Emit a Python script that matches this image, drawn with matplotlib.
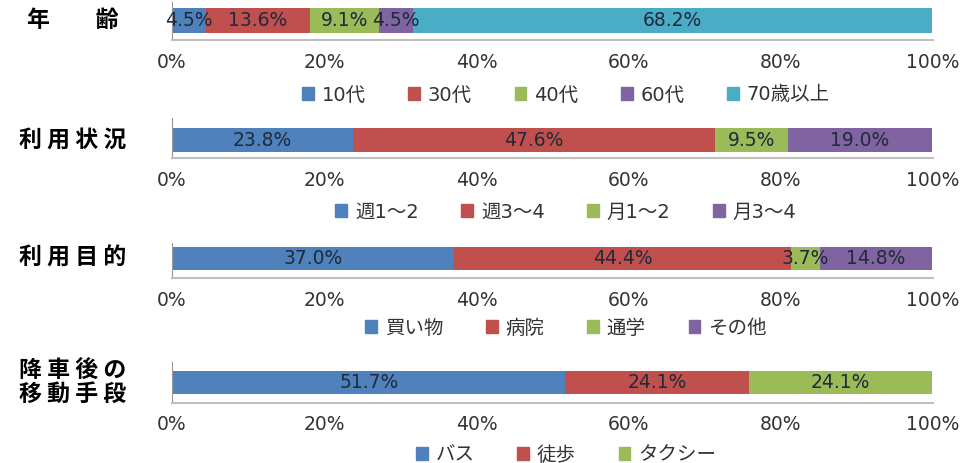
import matplotlib.pyplot as plt
from matplotlib.patches import Patch

plt.rcParams['font.family'] = ['DejaVu Sans', 'Noto Sans CJK JP']

# data
titles = ['年　　齢', '利 用 状 況', '利 用 目 的', '降 車 後 の\n移 動 手 段']
cats_age = ['10代', '30代', '40代', '60代', '70歳以上']
vals_age = [4.5, 13.6, 9.1, 4.5, 68.2]
cats_use = ['週1〜2', '週3〜4', '月1〜2', '月3〜4']
vals_use = [23.8, 47.6, 9.5, 19.0]
cats_purpose = ['買い物', '病院', '通学', 'その他']
vals_purpose = [37.0, 44.4, 3.7, 14.8]
cats_move = ['バス', '徒歩', 'タクシー']
vals_move = [51.7, 24.1, 24.1]
xticks = [0, 20, 40, 60, 80, 100]

colors = ['#4F81BD', '#C0504D', '#9BBB59', '#8064A2', '#4BACC6']

W, H = 967, 463
# layout in pixels: (axes top, axes bottom, bar top, bar bottom, legend y)
layout = [(2, 40, 8, 33, 95),
          (118, 158, 128, 152, 212),
          (243, 278, 247, 270, 328),
          (362, 403, 371, 394, 455)]
x0, x1 = 172, 933

panels = [(cats_age, vals_age), (cats_use, vals_use),
          (cats_purpose, vals_purpose), (cats_move, vals_move)]

fig = plt.figure(figsize=(W / 100, H / 100), dpi=100)

for (cats, vals), title, (T, B, t, b, ly) in zip(panels, titles, layout):
    ax = fig.add_axes([x0 / W, 1 - B / H, (x1 - x0) / W, (B - T) / H])
    left = 0
    for i, v in enumerate(vals):
        ax.barh(0, v, left=left, height=1, color=colors[i], edgecolor='none')
        ax.text(left + v / 2, 0, f'{v:.1f}%', ha='center', va='center',
                fontsize=13.5, color='#1f2a3a')
        left += v
    unit = b - t
    ax.set_ylim(-0.5 - (B - b) / unit, 0.5 + (t - T) / unit)
    ax.set_xlim(0, 100)
    ax.set_xticks(xticks)
    ax.set_xticklabels([f'{x}%' for x in xticks], fontsize=13.5, color='#333333')
    ax.tick_params(axis='x', length=0, pad=9)
    ax.set_yticks([])
    for s in ['top', 'right']:
        ax.spines[s].set_visible(False)
    ax.spines['left'].set_color('#999999')
    ax.spines['bottom'].set_color('#BFBFBF')
    ax.spines['bottom'].set_linewidth(1.5)

    fig.text(73 / W, 1 - ((t + b) / 2) / H, title, ha='center', va='center',
             fontsize=16.5, fontweight='bold', linespacing=1.05,
             family=['Noto Sans CJK JP', 'DejaVu Sans'])

    handles = [Patch(color=colors[i], label=c) for i, c in enumerate(cats)]
    fig.legend(handles=handles, loc='center', bbox_to_anchor=(566 / W, 1 - ly / H),
               ncol=len(cats), frameon=False, fontsize=14, handlelength=0.6,
               handleheight=0.6, handletextpad=0.4, columnspacing=2.2,
               labelcolor='#333333')

fig.savefig('out.png', dpi=100)
